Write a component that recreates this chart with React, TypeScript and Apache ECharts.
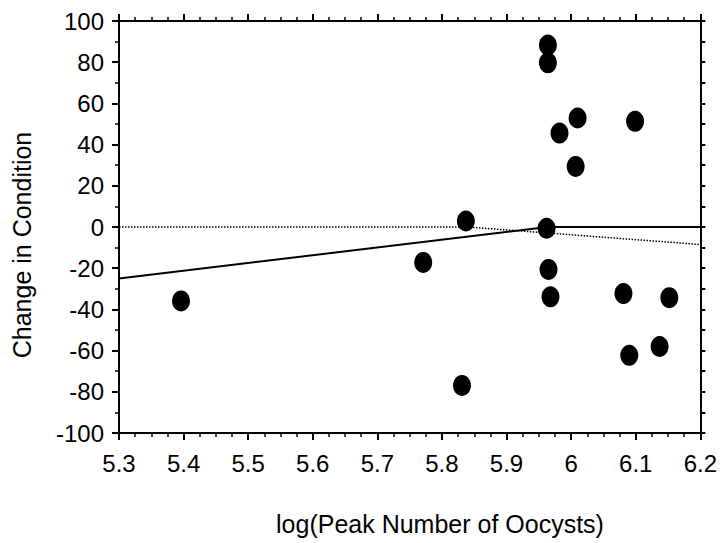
import React, { useEffect, useRef } from "react";
import * as echarts from "echarts";

const xValues = [5.396, 5.771, 5.837, 5.831, 5.964, 5.964, 6.01, 5.982, 6.007, 6.099, 5.962, 5.965, 5.968, 6.081, 6.152, 6.09, 6.137];
const yValues = [-35.9, -17.2, 2.9, -76.9, 88.3, 79.7, 52.9, 45.6, 29.4, 51.3, -0.6, -20.6, -33.9, -32.3, -34.3, -62.3, -58];

const solidLineX = [5.3, 5.964, 6.2];
const solidLineY = [-25, 0, 0];
const dottedLineX = [5.3, 5.84, 6.2];
const dottedLineY = [0, 0, -8.5];

const xTitle = "log(Peak Number of Oocysts)";
const yTitle = "Change in Condition";

const FONT = "'Liberation Sans', Arial, Helvetica, sans-serif";

export default function App() {
  const ref = useRef<HTMLDivElement>(null);
  useEffect(() => {
    if (!ref.current) return;
    const chart = echarts.init(ref.current, undefined, { renderer: "svg" });
    const pts = xValues.map((x, i) => [x, yValues[i]]);
    const solid = solidLineX.map((x, i) => [x, solidLineY[i]]);
    const dotted = dottedLineX.map((x, i) => [x, dottedLineY[i]]);
    const axisCommon = {
      type: "value" as const,
      axisLine: { show: true, onZero: false, lineStyle: { color: "#000", width: 2 } },
      splitLine: { show: false },
      axisTick: { show: true, inside: false, length: 7, lineStyle: { color: "#000", width: 2 } },
      minorTick: { show: true, length: 4, lineStyle: { color: "#000", width: 1.5 } },
    };
    chart.setOption({
      animation: false,
      backgroundColor: "#fff",
      grid: { left: 119, right: 19, top: 21, bottom: 110 },
      xAxis: [
        {
          ...axisCommon,
          position: "bottom",
          min: 5.3,
          max: 6.2,
          interval: 0.1,
          minorTick: { ...axisCommon.minorTick, splitNumber: 4 },
          axisLabel: {
            color: "#000",
            fontSize: 24,
            fontFamily: FONT,
            margin: 18,
            formatter: (v: number) => String(Math.round(v * 10) / 10),
          },
        },
        {
          ...axisCommon,
          position: "top",
          min: 5.3,
          max: 6.2,
          interval: 0.1,
          minorTick: { ...axisCommon.minorTick, splitNumber: 4 },
          axisLabel: { show: false },
        },
      ],
      yAxis: [
        {
          ...axisCommon,
          position: "left",
          min: -100,
          max: 100,
          interval: 20,
          minorTick: { ...axisCommon.minorTick, splitNumber: 2 },
          axisLabel: { color: "#000", fontSize: 24, fontFamily: FONT, margin: 15 },
        },
        {
          ...axisCommon,
          position: "right",
          min: -100,
          max: 100,
          interval: 10,
          axisTick: { ...axisCommon.axisTick, length: 5 },
          minorTick: { show: false },
          axisLabel: { show: false },
        },
      ],
      graphic: [
        {
          type: "text",
          x: 440,
          y: 524,
          style: {
            text: xTitle,
            font: `25px ${FONT}`,
            fill: "#000",
            textAlign: "center",
            textVerticalAlign: "middle",
          },
        },
        {
          type: "text",
          x: 22,
          y: 245,
          rotation: Math.PI / 2,
          style: {
            text: yTitle,
            font: `25px ${FONT}`,
            fill: "#000",
            textAlign: "center",
            textVerticalAlign: "middle",
          },
        },
      ],
      series: [
        {
          type: "line",
          data: dotted,
          showSymbol: false,
          symbol: "none",
          lineStyle: { color: "#000", width: 1.5, type: "dotted" },
          z: 2,
        },
        {
          type: "line",
          data: solid,
          showSymbol: false,
          symbol: "none",
          lineStyle: { color: "#000", width: 2 },
          z: 3,
        },
        {
          type: "scatter",
          data: pts,
          symbol: "circle",
          symbolSize: [18, 21],
          itemStyle: { color: "#000", opacity: 1 },
          z: 4,
        },
      ],
    });
    return () => chart.dispose();
  }, []);
  return <div ref={ref} style={{ width: 720, height: 543, position: "absolute", left: 0, top: 0 }} />;
}
